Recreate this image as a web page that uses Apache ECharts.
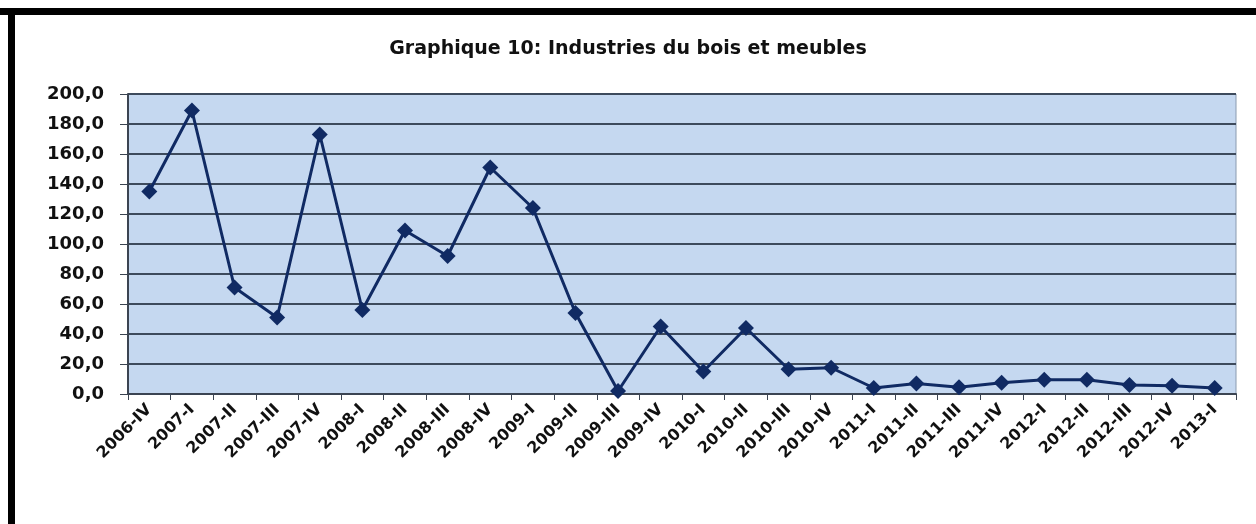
<!DOCTYPE html>
<html><head><meta charset="utf-8">
<script src="https://cdn.jsdelivr.net/npm/echarts@6/dist/echarts.min.js"></script>
<style>html,body{margin:0;padding:0;background:#fff}#c{width:1256px;height:524px}</style>
</head><body><div id="c"></div>
<script>
const titleText = 'Graphique 10: Industries du bois et meubles';
const categories = ['2006-IV','2007-I','2007-II','2007-III','2007-IV','2008-I','2008-II','2008-III','2008-IV','2009-I','2009-II','2009-III','2009-IV','2010-I','2010-II','2010-III','2010-IV','2011-I','2011-II','2011-III','2011-IV','2012-I','2012-II','2012-III','2012-IV','2013-I'];
const values = [135, 189, 71, 51, 173, 56, 109, 92, 151, 124, 54, 2, 45, 15, 44, 16.5, 17.5, 4, 7, 4.5, 7.5, 9.5, 9.5, 6, 5.5, 4];
const yMin = 0, yMax = 200, yStep = 20;

const chart = echarts.init(document.getElementById('c'));
chart.setOption({
  backgroundColor: '#ffffff',
  animation: false,
  title: {
    text: titleText, left: 'center', top: 35,
    textStyle: {fontFamily: 'DejaVu Sans', fontWeight: 'bold', fontSize: 19, color: '#111'}
  },
  graphic: [
    {type: 'rect', left: 0, top: 8, shape: {width: 1256, height: 7}, style: {fill: '#000'}},
    {type: 'rect', left: 8, top: 8, shape: {width: 7, height: 516}, style: {fill: '#000'}}
  ],
  grid: {left: 128, right: 20, top: 94, bottom: 130, show: true, backgroundColor: '#c5d8f0', borderColor: '#8a9bb0', borderWidth: 1},
  xAxis: {
    type: 'category', data: categories, boundaryGap: true,
    axisLine: {show: true, lineStyle: {color: '#3b4452', width: 2}},
    axisTick: {show: true, interval: 0, length: 6, lineStyle: {color: '#3b4452'}},
    axisLabel: {interval: 0, rotate: 45, margin: 13, fontFamily: 'DejaVu Sans', fontWeight: 'bold', fontSize: 16, color: '#111'},
    splitLine: {show: false}
  },
  yAxis: {
    type: 'value', min: yMin, max: yMax, interval: yStep,
    axisLine: {show: true, lineStyle: {color: '#3b4452', width: 2}},
    axisTick: {show: true, length: 8, lineStyle: {color: '#3b4452'}},
    axisLabel: {margin: 24, fontFamily: 'DejaVu Sans', fontWeight: 'bold', fontSize: 18, color: '#111',
      formatter: v => v.toFixed(1).replace('.', ',')},
    splitLine: {show: true, lineStyle: {color: '#3d4a5c', width: 2}}
  },
  series: [{
    type: 'line', data: values,
    symbol: 'diamond', symbolSize: 16,
    lineStyle: {color: '#102a63', width: 3},
    itemStyle: {color: '#102a63'}
  }]
});
</script></body></html>
